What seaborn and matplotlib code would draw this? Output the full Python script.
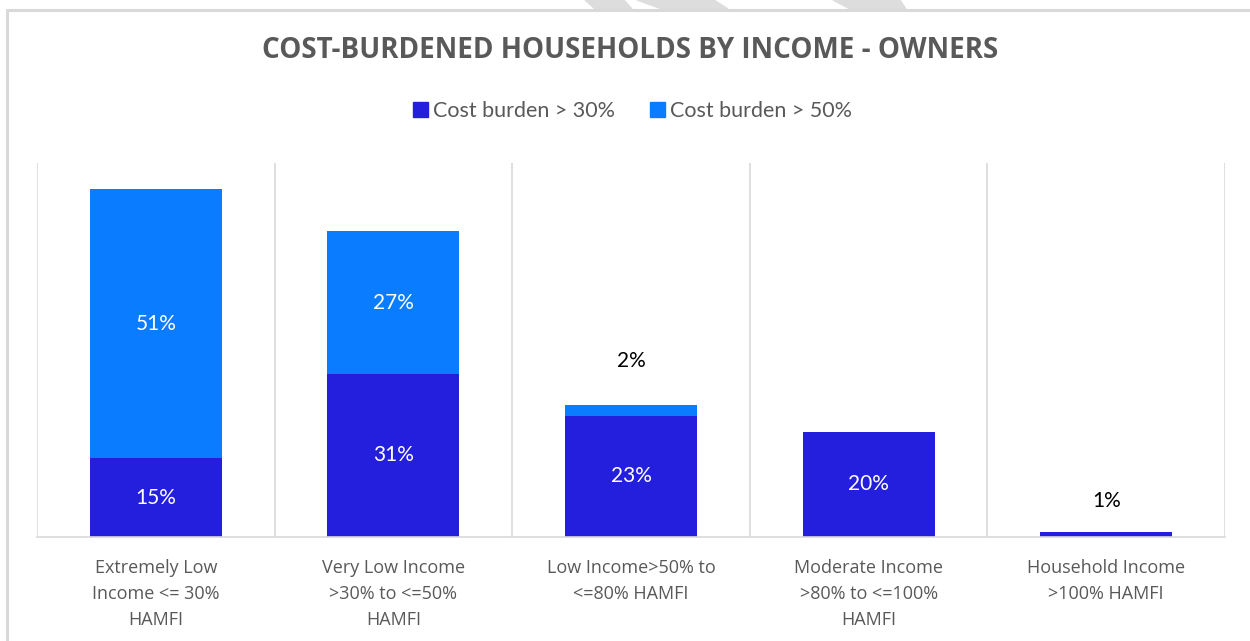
import matplotlib
matplotlib.use("Agg")
import matplotlib.pyplot as plt
import matplotlib.patches as mpatches
import numpy as np
import pandas as pd
import seaborn as sns

# data
categories = [
    "Extremely Low\nIncome <= 30%\nHAMFI",
    "Very Low Income\n>30% to <=50%\nHAMFI",
    "Low Income>50% to\n<=80% HAMFI",
    "Moderate Income\n>80% to <=100%\nHAMFI",
    "Household Income\n>100% HAMFI",
]
burden_30 = [15, 31, 23, 20, 1]
burden_50 = [51, 27, 2, 0, 0]
series_names = ["Cost burden > 30%", "Cost burden > 50%"]

dark_blue = "#231FDC"
light_blue = "#0A7CFF"
grey_text = "#595959"

sns.set_theme(style="white")
plt.rcParams["font.family"] = ["Lato", "DejaVu Sans"]
wide_font = ["Open Sans", "DejaVu Sans"]

df = pd.DataFrame({"category": categories, "b30": burden_30, "b50": burden_50})
df["total"] = df["b30"] + df["b50"]

fig = plt.figure(figsize=(12.5, 6.41), dpi=100)
ax = fig.add_axes([0.0296, 0.1622, 0.9504, 0.5835])

sns.barplot(data=df, x="category", y="total", color=light_blue, width=0.556,
            saturation=1, ax=ax, linewidth=0)
sns.barplot(data=df, x="category", y="b30", color=dark_blue, width=0.556,
            saturation=1, ax=ax, linewidth=0)

ax.set_ylim(0, 71)
ax.set_xlim(-0.5, len(categories) - 0.5)
ax.set_xlabel("")
ax.set_ylabel("")
ax.set_yticks([])

# vertical separators between categories
ax.set_xticks(np.arange(-0.5, len(categories)), minor=True)
ax.grid(which="minor", axis="x", color="#D9D9D9", linewidth=1.2)
ax.grid(which="major", visible=False)
ax.tick_params(axis="x", which="both", length=0, pad=16)
for sp in ["top", "left", "right"]:
    ax.spines[sp].set_visible(False)
ax.spines["bottom"].set_color("#D9D9D9")
ax.spines["bottom"].set_linewidth(1.2)
ax.set_xticklabels(categories, fontsize=13, color=grey_text, linespacing=1.55,
                   family=wide_font)

# data labels
for i, row in df.iterrows():
    if row["b30"] >= 5:
        ax.text(i, row["b30"] / 2, f"{row['b30']}%", ha="center", va="center",
                color="white", fontsize=15)
    else:
        ax.annotate(f"{row['b30']}%", (i, row["total"]), xytext=(0, 22),
                    textcoords="offset points", ha="center", va="center",
                    fontsize=15, color="black")
    if row["b50"] >= 5:
        ax.text(i, row["b30"] + row["b50"] / 2, f"{row['b50']}%", ha="center",
                va="center", color="white", fontsize=15)
    elif row["b50"] > 0:
        ax.annotate(f"{row['b50']}%", (i, row["total"]), xytext=(0, 32),
                    textcoords="offset points", ha="center", va="center",
                    fontsize=15, color="black")

fig.text(0.504, 0.921, "COST-BURDENED HOUSEHOLDS BY INCOME - OWNERS",
         ha="center", va="center", fontsize=20, fontweight="bold", color=grey_text,
         family=wide_font)

handles = [mpatches.Patch(color=dark_blue), mpatches.Patch(color=light_blue)]
fig.legend(handles, series_names, loc="center", bbox_to_anchor=(0.506, 0.827),
           ncol=2, frameon=False, fontsize=15.5, handlelength=0.7, handleheight=0.7,
           handletextpad=0.25, columnspacing=1.6, labelcolor=grey_text)

# outer chart border (top and left edges visible)
fig.add_artist(plt.Line2D([0.0056, 1.0], [0.984, 0.984], color="#D9D9D9", lw=2.2,
                          transform=fig.transFigure))
fig.add_artist(plt.Line2D([0.0056, 0.0056], [0.0, 0.984], color="#D9D9D9", lw=2.2,
                          transform=fig.transFigure))

# faint watermark stripes above the border
for xs in [(585, 624, 632, 595), (637, 714, 728, 662), (833, 900, 906, 850)]:
    poly = plt.Polygon([(xs[0] / 1250, 1.0), (xs[1] / 1250, 1.0),
                        (xs[2] / 1250, 0.986), (xs[3] / 1250, 0.986)],
                       closed=True, color="#DDDDDD", transform=fig.transFigure)
    fig.add_artist(poly)

fig.savefig("out.png", dpi=100)
